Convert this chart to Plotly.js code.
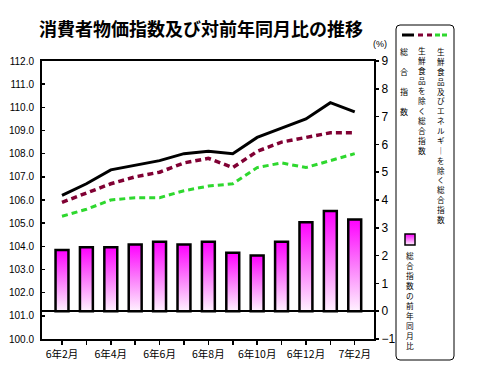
<!DOCTYPE html>
<html>
<head>
<meta charset="utf-8">
<script src="https://cdn.plot.ly/plotly-3.0.1.min.js"></script>
<style>
  html, body { margin: 0; padding: 0; background: #ffffff; }
  #chart { width: 480px; height: 383px; }
</style>
</head>
<body>
<div id="chart"></div>
<script>
// ---- data ----
const months = ['6年2月','6年3月','6年4月','6年5月','6年6月','6年7月','6年8月','6年9月','6年10月','6年11月','6年12月','7年1月','7年2月'];
const tickText = ['6年2月','','6年4月','','6年6月','','6年8月','','6年10月','','6年12月','','7年2月'];
const sogo = [106.2, 106.7, 107.3, 107.5, 107.7, 108.0, 108.1, 108.0, 108.7, 109.1, 109.5, 110.2, 109.8];
const exFresh = [105.9, 106.3, 106.7, 107.0, 107.2, 107.6, 107.8, 107.4, 108.1, 108.5, 108.7, 108.9, 108.9];
const exFreshEnergy = [105.3, 105.6, 106.0, 106.1, 106.1, 106.4, 106.6, 106.7, 107.4, 107.6, 107.4, 107.7, 108.0];
const yoy = [2.2, 2.3, 2.3, 2.4, 2.5, 2.4, 2.5, 2.1, 2.0, 2.5, 3.2, 3.6, 3.3];

const titleText = '消費者物価指数及び対前年同月比の推移';
const legSogo = '総合指数';
const legExFresh = '生鮮食品を除く総合指数';
const legExFE = '生鮮食品及びエネルギーを除く総合指数';
const legYoy = '総合指数の前年同月比';

// ---- geometry helpers (plot area in px) ----
const PL = 42, PR = 374, PT = 61, PB = 339;
const px = v => (v - PL) / (PR - PL);
const py = v => (PB - v) / (PB - PT);

const CJK = '"Noto Sans CJK JP", "Noto Sans", sans-serif';
const LAT = '"Liberation Sans", Arial, sans-serif';

const traces = [
  {
    type: 'bar', x: months, y: yoy, yaxis: 'y2', width: 0.53,
    marker: { color: '#ff00ff', line: { color: '#000000', width: 2.5 } },
    hoverinfo: 'skip'
  },
  {
    type: 'scatter', mode: 'lines', x: months, y: exFreshEnergy,
    line: { color: '#2ed82e', width: 3, dash: '6px,4px' }
  },
  {
    type: 'scatter', mode: 'lines', x: months, y: exFresh,
    line: { color: '#800033', width: 3.5, dash: '6px,4px' }
  },
  {
    type: 'scatter', mode: 'lines', x: months, y: sogo,
    line: { color: '#000000', width: 3 }
  }
];

const annotations = [];
// vertical text, one character per line (single text block)
function vcol(str, x, yFirst, yLast, size) {
  const chars = [...str].map(ch => ch === 'ー' ? '｜' : ch);
  annotations.push({
    xref: 'paper', yref: 'paper', x: px(x), y: py((yFirst + yLast) / 2),
    xanchor: 'center', yanchor: 'middle', showarrow: false, borderpad: 0,
    text: chars.join('<br>'), align: 'center',
    font: { family: CJK, size: size, color: '#000000' }
  });
}
// widely spaced column: one character per annotation
function vspaced(str, x, y0, step, size) {
  [...str].forEach((ch, i) => {
    annotations.push({
      xref: 'paper', yref: 'paper', x: px(x), y: py(y0 + i * step),
      xanchor: 'center', yanchor: 'middle', showarrow: false, borderpad: 0,
      text: ch, font: { family: CJK, size: size, color: '#000000' }
    });
  });
}
vspaced(legSogo, 404, 51, 20, 8);
vcol(legExFresh, 422, 51, 150.7, 7.7);
vcol(legExFE, 441, 51, 220, 7.6);
vcol(legYoy, 410, 255, 345, 7.7);
annotations.push({
  xref: 'paper', yref: 'paper', x: px(380), y: py(44), xanchor: 'center', yanchor: 'middle',
  showarrow: false, text: '(%)', font: { family: LAT, size: 9, color: '#000000' }
});

// rounded legend box
function roundRect(x0, y0, x1, y1, r) {
  const X = v => px(v), Y = v => py(v);
  return `M${X(x0 + r)},${Y(y0)} L${X(x1 - r)},${Y(y0)} Q${X(x1)},${Y(y0)} ${X(x1)},${Y(y0 + r)} ` +
         `L${X(x1)},${Y(y1 - r)} Q${X(x1)},${Y(y1)} ${X(x1 - r)},${Y(y1)} ` +
         `L${X(x0 + r)},${Y(y1)} Q${X(x0)},${Y(y1)} ${X(x0)},${Y(y1 - r)} ` +
         `L${X(x0)},${Y(y0 + r)} Q${X(x0)},${Y(y0)} ${X(x0 + r)},${Y(y0)} Z`;
}

const shapes = [
  { type: 'path', xref: 'paper', yref: 'paper', path: roundRect(396, 25, 454, 360, 4),
    line: { color: '#000000', width: 1 }, fillcolor: 'rgba(0,0,0,0)' },
  { type: 'line', xref: 'paper', yref: 'paper', x0: px(402), x1: px(414), y0: py(35), y1: py(35),
    line: { color: '#000000', width: 3 } },
  { type: 'line', xref: 'paper', yref: 'paper', x0: px(418), x1: px(432), y0: py(35), y1: py(35),
    line: { color: '#800033', width: 3, dash: '5px,4px' } },
  { type: 'line', xref: 'paper', yref: 'paper', x0: px(435), x1: px(449), y0: py(35), y1: py(35),
    line: { color: '#2ed82e', width: 3, dash: '5px,2px' } },
  { type: 'rect', xref: 'paper', yref: 'paper', x0: px(405), x1: px(415), y0: py(245), y1: py(234),
    line: { color: '#000000', width: 1.5 }, fillcolor: '#ff00ff' }
];

const layout = {
  width: 480, height: 383,
  margin: { l: PL, r: 480 - PR, t: PT, b: 383 - PB, pad: 0 },
  paper_bgcolor: '#ffffff', plot_bgcolor: '#ffffff',
  showlegend: false,
  title: {
    text: '<b>' + titleText + '</b>',
    font: { family: CJK, size: 18, color: '#000000' },
    xref: 'paper', x: px(201), xanchor: 'center',
    yref: 'container', y: 1 - 30 / 383, yanchor: 'middle'
  },
  xaxis: {
    type: 'category', range: [-0.82, 12.79],
    tickvals: months, ticktext: tickText,
    ticks: 'outside', ticklen: 4, tickwidth: 1.5, tickcolor: '#000000',
    showline: true, linecolor: '#000000', linewidth: 2, mirror: true,
    showgrid: false, zeroline: false,
    tickfont: { family: CJK, size: 10.5, color: '#000000' }
  },
  yaxis: {
    range: [100, 112], dtick: 1, tick0: 100, tickformat: '.1f',
    ticks: 'inside', ticklen: 3, tickwidth: 1.5, tickcolor: '#000000',
    showline: true, linecolor: '#000000', linewidth: 2,
    showgrid: false, zeroline: false, ticklabelstandoff: 4,
    tickfont: { family: LAT, size: 10, color: '#000000' }
  },
  yaxis2: {
    overlaying: 'y', side: 'right', range: [-1, 9], dtick: 1, tick0: 0,
    ticks: 'outside', ticklen: 3, tickwidth: 1.5, tickcolor: '#000000',
    showline: true, linecolor: '#000000', linewidth: 2,
    showgrid: false, zeroline: true, zerolinecolor: '#000000', zerolinewidth: 2,
    tickfont: { family: LAT, size: 12, color: '#000000' }
  },
  bargap: 0.4,
  annotations: annotations,
  shapes: shapes
};

Plotly.newPlot('chart', traces, layout, { staticPlot: true, displayModeBar: false }).then(gd => {
  const NS = 'http://www.w3.org/2000/svg';
  const defs = gd.querySelector('.main-svg defs');
  const grad = document.createElementNS(NS, 'linearGradient');
  grad.setAttribute('id', 'barGrad');
  grad.setAttribute('x1', '0'); grad.setAttribute('y1', '0');
  grad.setAttribute('x2', '0'); grad.setAttribute('y2', '1');
  [[0, '#ff00ff'], [0.5, '#fb7cfb'], [1, '#fff2ff']].forEach(([o, c]) => {
    const s = document.createElementNS(NS, 'stop');
    s.setAttribute('offset', o); s.setAttribute('stop-color', c);
    grad.appendChild(s);
  });
  defs.appendChild(grad);
  gd.querySelectorAll('.barlayer .point path').forEach(p => { p.style.fill = 'url(#barGrad)'; });
  gd.querySelectorAll('.shapelayer path[data-index="4"]').forEach(p => { p.style.fill = 'url(#barGrad)'; });
});
</script>
</body>
</html>
